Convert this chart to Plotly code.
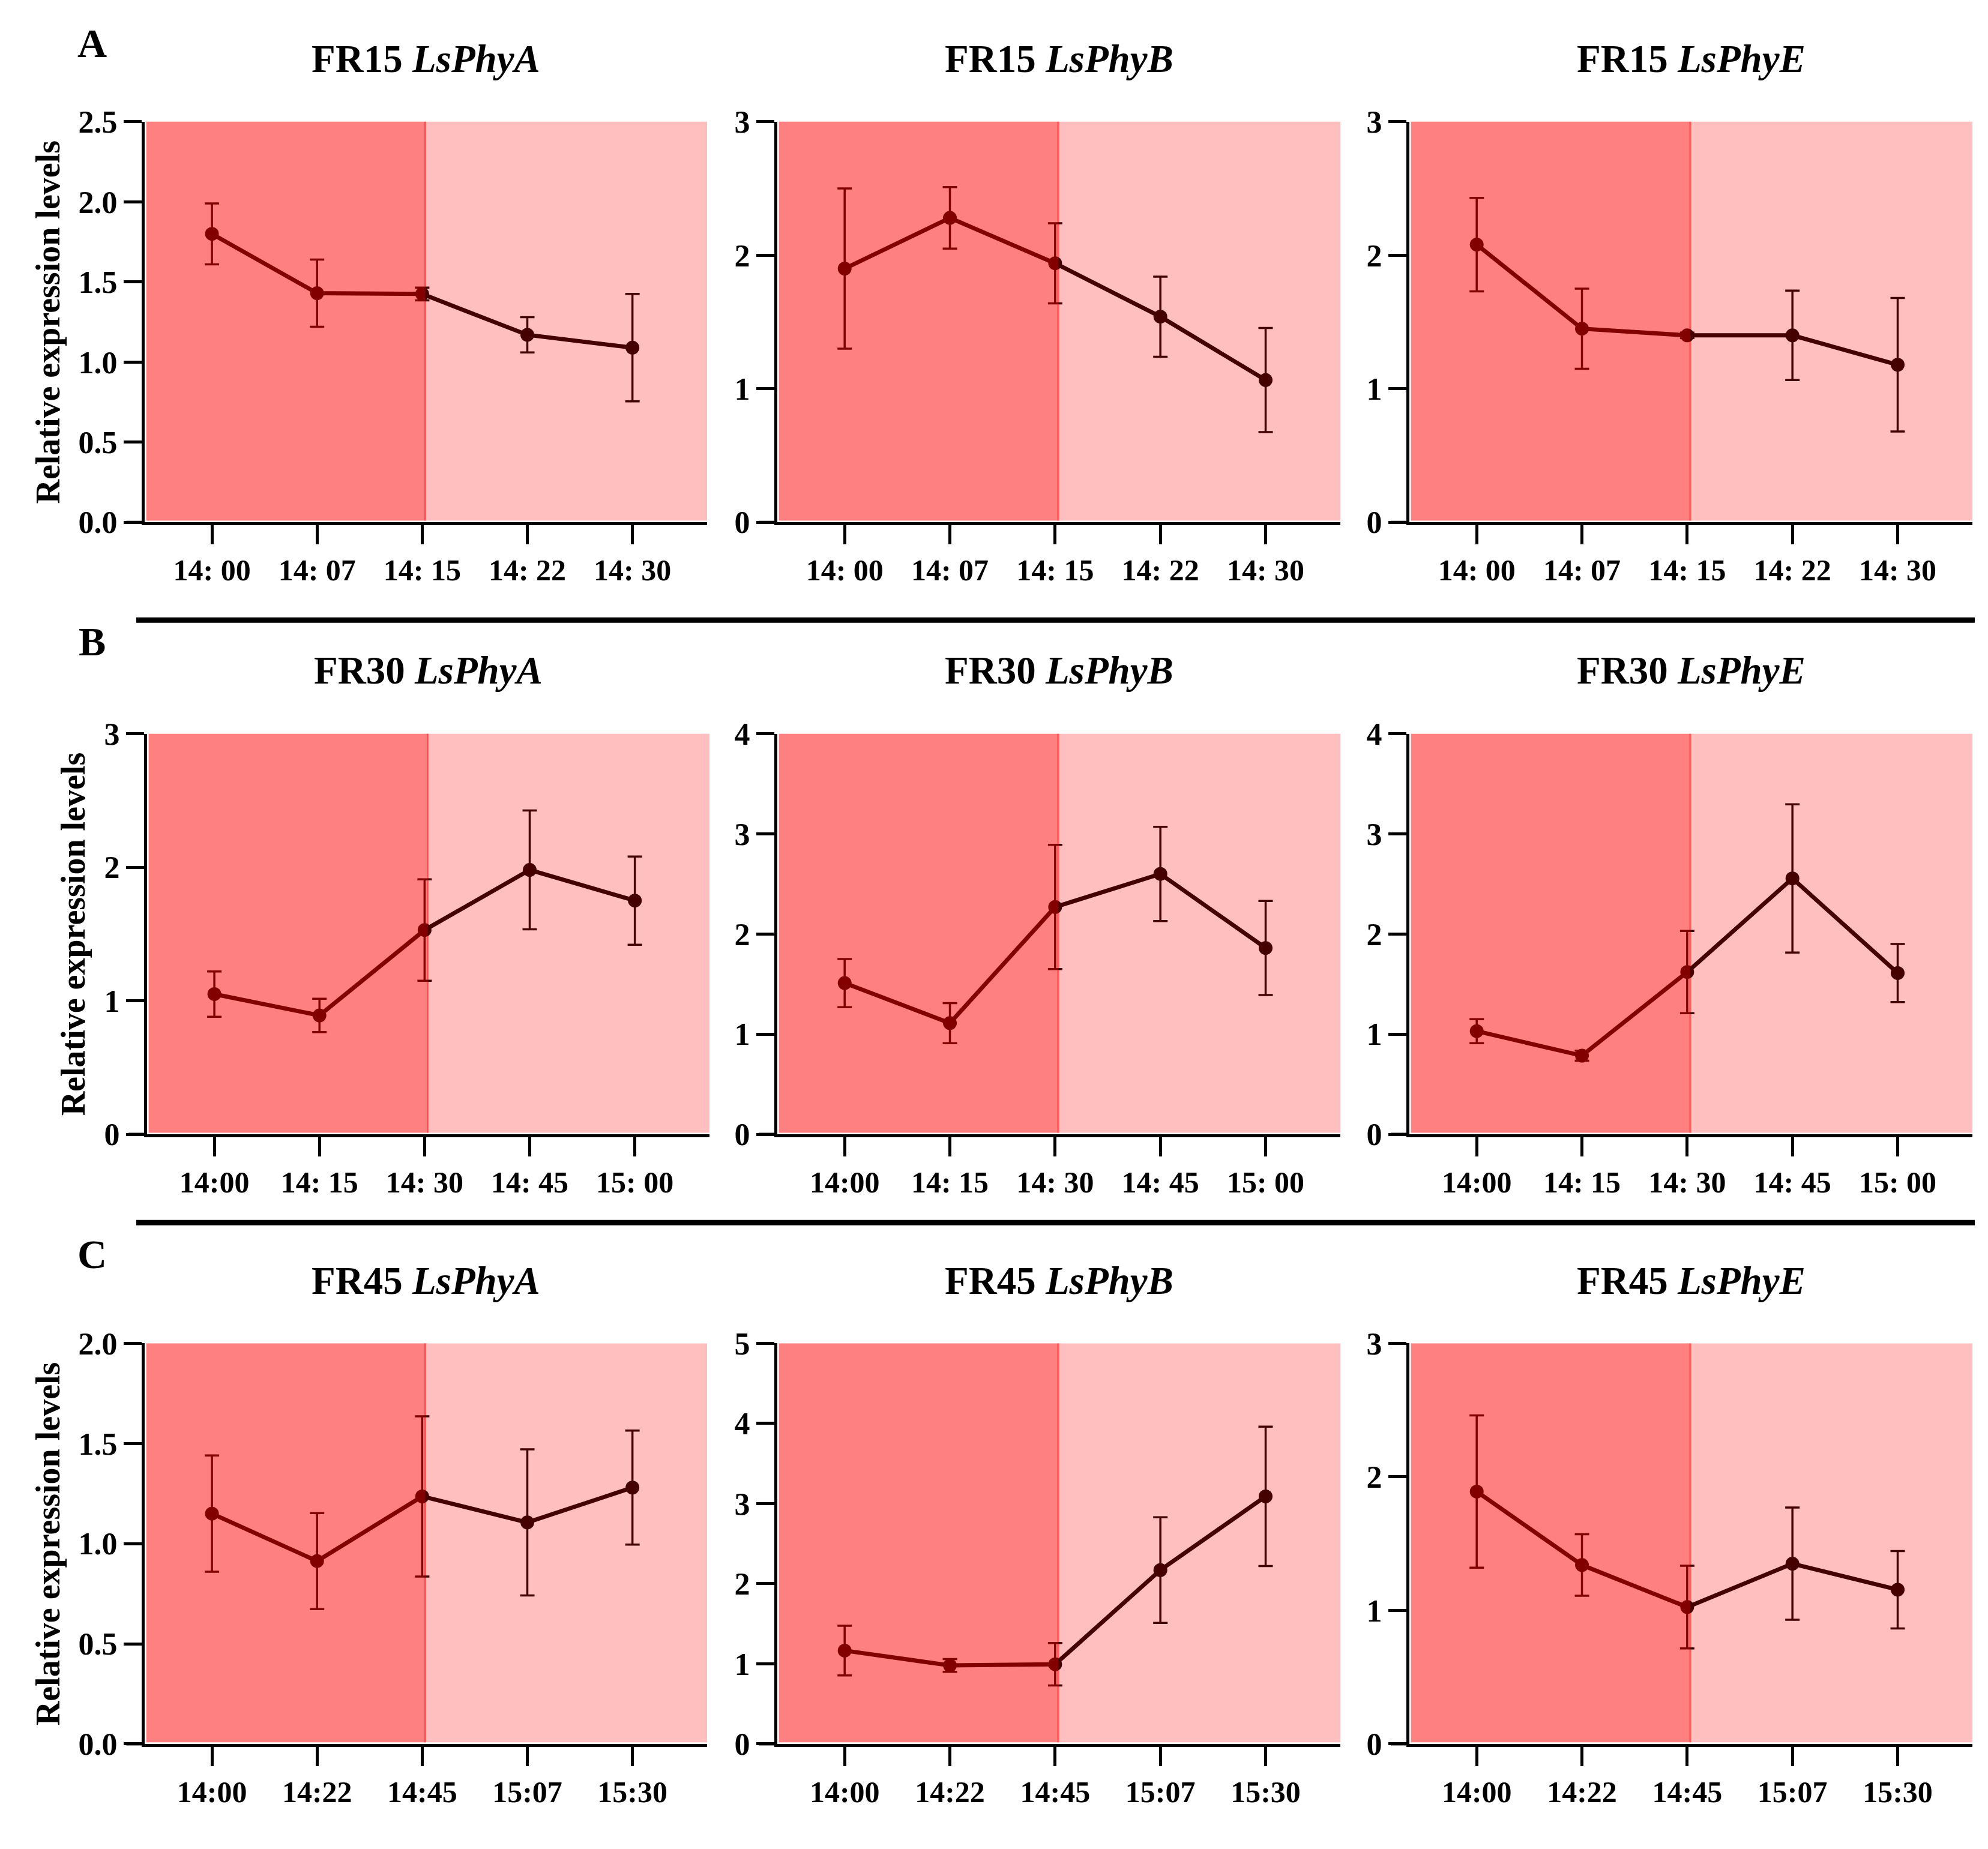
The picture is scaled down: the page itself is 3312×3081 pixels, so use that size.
import plotly.graph_objects as go

# time points shown under each row
times_fr15 = ["14: 00", "14: 07", "14: 15", "14: 22", "14: 30"]
times_fr30 = ["14:00", "14: 15", "14: 30", "14: 45", "15: 00"]
times_fr45 = ["14:00", "14:22", "14:45", "15:07", "15:30"]

genes = ["LsPhyA", "LsPhyB", "LsPhyE"]
treatments = ["FR15", "FR30", "FR45"]

# relative expression (mean) and error (SD)
fr15_phya = [1.80, 1.43, 1.425, 1.17, 1.09]
fr15_phya_err = [0.19, 0.21, 0.04, 0.11, 0.335]
fr15_phyb = [1.90, 2.28, 1.94, 1.54, 1.065]
fr15_phyb_err = [0.60, 0.23, 0.30, 0.30, 0.39]
fr15_phye = [2.08, 1.45, 1.40, 1.40, 1.18]
fr15_phye_err = [0.35, 0.30, 0.02, 0.335, 0.50]

fr30_phya = [1.05, 0.89, 1.53, 1.98, 1.75]
fr30_phya_err = [0.17, 0.125, 0.38, 0.445, 0.33]
fr30_phyb = [1.51, 1.11, 2.27, 2.60, 1.86]
fr30_phyb_err = [0.24, 0.20, 0.62, 0.47, 0.47]
fr30_phye = [1.03, 0.785, 1.62, 2.555, 1.61]
fr30_phye_err = [0.12, 0.05, 0.41, 0.74, 0.29]

fr45_phya = [1.15, 0.913, 1.236, 1.106, 1.28]
fr45_phya_err = [0.29, 0.24, 0.40, 0.365, 0.285]
fr45_phyb = [1.165, 0.98, 0.994, 2.17, 3.09]
fr45_phyb_err = [0.31, 0.08, 0.265, 0.66, 0.87]
fr45_phye = [1.89, 1.34, 1.025, 1.35, 1.155]
fr45_phye_err = [0.57, 0.23, 0.31, 0.42, 0.29]

y_max = [[2.5, 3, 3], [3, 4, 4], [2.0, 5, 3]]
y_step = [[0.5, 1, 1], [1, 1, 1], [0.5, 1, 1]]

panels = [
    [(fr15_phya, fr15_phya_err), (fr15_phyb, fr15_phyb_err), (fr15_phye, fr15_phye_err)],
    [(fr30_phya, fr30_phya_err), (fr30_phyb, fr30_phyb_err), (fr30_phye, fr30_phye_err)],
    [(fr45_phya, fr45_phya_err), (fr45_phyb, fr45_phyb_err), (fr45_phye, fr45_phye_err)],
]
row_times = [times_fr15, times_fr30, times_fr45]

W, H = 3312, 3081
OFF = 8  # page body margin of the exported html


def px(x):
    return (x - OFF) / W


def py(y):
    return 1 - (y - OFF) / H


FONT = "Liberation Serif"
LINE_COL = "#450000"
# panel boxes in page pixels
COL_PX = [(241, 1178), (1295, 2233), (2348, 3286)]
ROW_PX = [(178, 858), (1217, 1897), (2252, 2932)]
TITLE_Y = [71, 1109, 2146]
LETTER_Y = [45, 1060, 2101]
YTITLE_X = [80, 122, 80]
SEP_Y = [1024, 2047]
X_RANGE = [-0.64, 4.71]
LIGHT_END = 2.03

fig = go.Figure()
shapes = []
annotations = []
layout = {}

k = 0
for r in range(3):
    for c in range(3):
        k += 1
        sx = "" if k == 1 else str(k)
        xname, yname = "x" + sx, "y" + sx
        vals, errs = panels[r][c]
        fig.add_trace(go.Scatter(
            x=list(range(len(vals))), y=vals,
            xaxis=xname, yaxis=yname,
            mode="lines+markers",
            line=dict(color=LINE_COL, width=7),
            marker=dict(color=LINE_COL, size=23),
            error_y=dict(type="data", array=errs, visible=True,
                         color=LINE_COL, thickness=3.5, width=12),
            showlegend=False,
        ))

        x0, x1 = COL_PX[c]
        if r == 1 and c == 0:
            x0, x1 = x0 + 4, x1 + 4
        y0, y1 = ROW_PX[r]
        layout["xaxis" + sx] = dict(
            domain=[px(x0), px(x1)], anchor=yname, range=X_RANGE,
            tickvals=list(range(5)), ticktext=row_times[r],
            showline=True, linecolor="black", linewidth=5,
            ticks="outside", ticklen=32, tickwidth=5, tickcolor="black",
            tickfont=dict(family=FONT, size=50, color="black", weight="bold"),
            showgrid=False, zeroline=False, fixedrange=True,
        )
        layout["yaxis" + sx] = dict(
            domain=[py(y1), py(y0)], anchor=xname, range=[0, y_max[r][c]],
            dtick=y_step[r][c], tick0=0,
            tickformat=".1f" if y_step[r][c] < 1 else "d",
            showline=True, linecolor="black", linewidth=5,
            ticks="outside", ticklen=30, tickwidth=5, tickcolor="black",
            tickfont=dict(family=FONT, size=52, color="black", weight="bold"),
            showgrid=False, zeroline=False, fixedrange=True,
        )

        # pale far-red background over the whole panel
        shapes.append(dict(type="rect", xref=xname + " domain", yref=yname + " domain",
                           x0=0.003, x1=1, y0=0.004, y1=1, layer="below",
                           fillcolor="#FFBFBF", line=dict(width=0)))
        # darker first half (drawn above the traces, so the line looks redder there)
        shapes.append(dict(type="rect", xref=xname, yref=yname + " domain",
                           x0=X_RANGE[0] + 0.015, x1=LIGHT_END, y0=0.004, y1=1, layer="above",
                           fillcolor="rgba(255,0,0,0.33)", line=dict(width=0)))
        shapes.append(dict(type="line", xref=xname, yref=yname + " domain",
                           x0=LIGHT_END, x1=LIGHT_END, y0=0.004, y1=1, layer="below",
                           line=dict(color="#FF6464", width=3)))
        # x axis line runs out under the y ticks
        shapes.append(dict(type="line", xref=xname + " domain", yref=yname + " domain",
                           x0=-0.033, x1=0, y0=0, y1=0,
                           line=dict(color="black", width=5)))

        annotations.append(dict(
            text="<b>%s <i>%s</i></b>" % (treatments[r], genes[c]),
            x=px((x0 + x1) / 2), y=py(TITLE_Y[r]), xref="paper", yref="paper",
            xanchor="center", yanchor="middle",
            showarrow=False, font=dict(family=FONT, size=65, color="black"),
        ))

for r, letter in enumerate(["A", "B", "C"]):
    annotations.append(dict(
        text="<b>%s</b>" % letter, x=px(153), y=py(LETTER_Y[r]),
        xref="paper", yref="paper", xanchor="center", yanchor="middle",
        showarrow=False, font=dict(family=FONT, size=68, color="black"),
    ))
    annotations.append(dict(
        text="<b>Relative expression levels</b>", textangle=-90,
        x=px(YTITLE_X[r]), y=py(sum(ROW_PX[r]) / 2),
        xref="paper", yref="paper", xanchor="center", yanchor="middle",
        showarrow=False, font=dict(family=FONT, size=56, color="black"),
    ))

for yy in SEP_Y:
    shapes.append(dict(type="line", xref="paper", yref="paper",
                       x0=px(227), x1=px(3290), y0=py(yy), y1=py(yy),
                       line=dict(color="black", width=9)))

fig.update_layout(
    width=W, height=H,
    margin=dict(l=0, r=0, t=0, b=0),
    paper_bgcolor="white", plot_bgcolor="white",
    shapes=shapes, annotations=annotations,
    **layout,
)

fig.write_html("out.html")
